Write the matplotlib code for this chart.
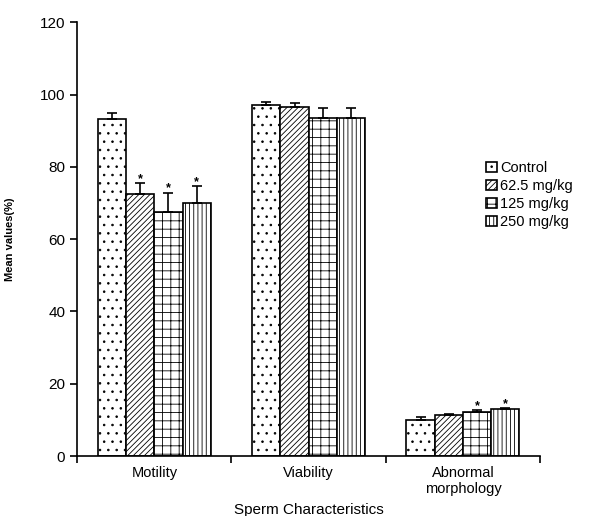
import matplotlib.pyplot as plt
import numpy as np

plt.rcParams['font.family'] = ['Liberation Sans', 'DejaVu Sans']
plt.rcParams['hatch.linewidth'] = 0.6

categories = ["Motility", "Viability", "Abnormal\nmorphology"]
groups = ["Control", "62.5 mg/kg", "125 mg/kg", "250 mg/kg"]
means = [
    [93.3, 97.1, 10.1],
    [72.4, 96.5, 11.3],
    [67.5, 93.4, 12.1],
    [70.1, 93.4, 13.1],
]
errors = [
    [1.7, 0.9, 0.8],
    [3.1, 1.2, 0.4],
    [5.4, 2.8, 0.6],
    [4.5, 2.8, 0.1],
]
stars = [
    [False, False, False],
    [True, False, False],
    [True, False, True],
    [True, False, True],
]
hatches = ['..', '//////', '++', '||||']

fig = plt.figure(figsize=(5.89, 5.16), dpi=100)
ax = fig.add_axes([0.131, 0.116, 0.786, 0.841])

x = np.arange(len(categories))
w = 0.183
for i, g in enumerate(groups):
    pos = x + (i - 1.5) * w
    ax.bar(pos, means[i], w, color='white', edgecolor='black', linewidth=1.2,
           hatch=hatches[i], label=g, zorder=2)
    ax.errorbar(pos, means[i], yerr=[np.zeros(3), errors[i]], fmt='none',
                ecolor='black', elinewidth=1.2, capsize=3.5, capthick=1.2, zorder=3)
    for j in range(3):
        if stars[i][j]:
            ax.text(pos[j], means[i][j] + errors[i][j] - 0.5, '*', ha='center',
                    va='bottom', fontsize=9, fontweight='bold')

ax.set_xlim(-0.5, 2.5)
ax.set_ylim(0, 120)
ax.set_yticks(range(0, 121, 20))
ax.set_xticks([-0.5, 0.5, 1.5, 2.5])
ax.set_xticklabels([])
ax.set_xticks(x, minor=True)
ax.set_xticklabels(categories, minor=True, fontsize=10.5)
ax.tick_params(axis='x', which='minor', length=0, pad=7)
ax.tick_params(axis='x', which='major', length=5, width=1.2, direction='out')
ax.tick_params(axis='y', length=5, width=1.2, labelsize=11)
for s in ['top', 'right']:
    ax.spines[s].set_visible(False)
for s in ['left', 'bottom']:
    ax.spines[s].set_linewidth(1.2)

ax.set_xlabel("Sperm Characteristics", fontsize=11)
ax.xaxis.set_label_coords(0.5, -0.108)
ax.set_ylabel("Mean values(%)", fontsize=8, fontweight='bold')
ax.yaxis.set_label_coords(-0.134, 0.5)

ax.legend(loc='upper left', bbox_to_anchor=(0.87, 0.693), frameon=False,
          fontsize=10.5, handlelength=0.8, handleheight=0.7, handletextpad=0.2,
          labelspacing=0.28, borderaxespad=0)

fig.savefig("out.png", dpi=100)
